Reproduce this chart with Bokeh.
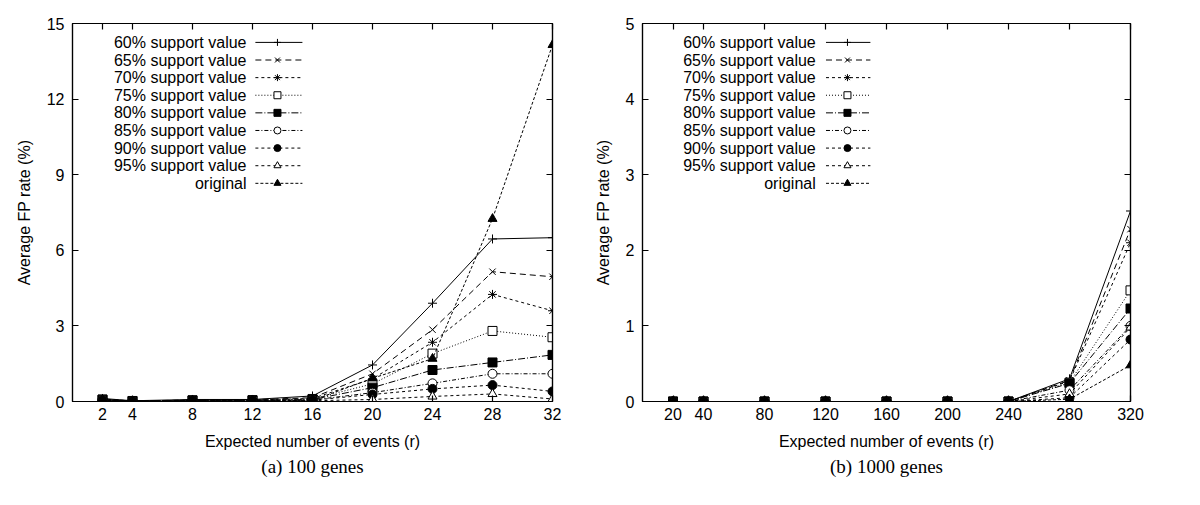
from bokeh.plotting import figure
from bokeh.layouts import row
from bokeh.models import Range1d, LinearAxis, FixedTicker, Title
from bokeh.core.properties import value
from bokeh.embed import file_html
from bokeh.resources import INLINE

# ---------------- data ----------------
labels = ["60% support value", "65% support value", "70% support value",
          "75% support value", "80% support value", "85% support value",
          "90% support value", "95% support value", "original"]

# (a) 100 genes
x_a = [2, 4, 8, 12, 16, 20, 24, 28, 32]
a60 = [0.12, 0.03, 0.08, 0.08, 0.22, 1.45, 3.90, 6.45, 6.50]
a65 = [0.10, 0.02, 0.06, 0.07, 0.15, 1.10, 2.85, 5.15, 4.95]
a70 = [0.10, 0.02, 0.05, 0.06, 0.12, 0.90, 2.35, 4.25, 3.60]
a75 = [0.08, 0.02, 0.05, 0.05, 0.10, 0.70, 1.90, 2.80, 2.55]
a80 = [0.07, 0.02, 0.04, 0.05, 0.08, 0.55, 1.25, 1.55, 1.85]
a85 = [0.06, 0.01, 0.03, 0.04, 0.06, 0.35, 0.72, 1.10, 1.10]
a90 = [0.05, 0.01, 0.03, 0.03, 0.05, 0.28, 0.50, 0.65, 0.40]
a95 = [0.04, 0.01, 0.02, 0.02, 0.03, 0.08, 0.20, 0.30, 0.10]
a_orig = [0.05, 0.01, 0.03, 0.03, 0.04, 0.92, 1.70, 7.25, 14.15]

# (b) 1000 genes
x_b = [20, 40, 80, 120, 160, 200, 240, 280, 320]
b60 = [0, 0, 0, 0, 0, 0, 0, 0.30, 2.52]
b65 = [0, 0, 0, 0, 0, 0, 0, 0.28, 2.28]
b70 = [0, 0, 0, 0, 0, 0, 0, 0.27, 2.10]
b75 = [0, 0, 0, 0, 0, 0, 0, 0.25, 1.47]
b80 = [0, 0, 0, 0, 0, 0, 0, 0.24, 1.23]
b85 = [0, 0, 0, 0, 0, 0, 0, 0.15, 1.00]
b90 = [0, 0, 0, 0, 0, 0, 0, 0.05, 0.82]
b95 = [0, 0, 0, 0, 0, 0, 0, 0.10, 0.98]
b_orig = [0, 0, 0, 0, 0, 0, 0, 0.03, 0.48]

xticks_a = [2, 4, 8, 12, 16, 20, 24, 28, 32]
yticks_a = [0, 3, 6, 9, 12, 15]
xticks_b = [20, 40, 80, 120, 160, 200, 240, 280, 320]
yticks_b = [0, 1, 2, 3, 4, 5]

# ---------------- styles ----------------
styles = [
    dict(marker="cross", fill=None, dash="solid"),
    dict(marker="x", fill=None, dash="6 4"),
    dict(marker="asterisk", fill=None, dash="3 3"),
    dict(marker="square", fill="white", dash="1 2"),
    dict(marker="square", fill="black", dash="7 2 1 2"),
    dict(marker="circle", fill="white", dash="4 2 1 2"),
    dict(marker="circle", fill="black", dash="3 3"),
    dict(marker="triangle", fill="white", dash="3 3"),
    dict(marker="triangle", fill="black", dash="3 2"),
]
SANS = "Liberation Sans"
SERIF = "Liberation Serif"


def make_plot(xs, series, xr, yr, xticks, yticks, caption, frame_w, bl, br,
              leg_text_f, leg_l0, leg_l1, leg_m):
    p = figure(frame_width=frame_w, frame_height=378,
               x_range=Range1d(*xr), y_range=Range1d(*yr),
               output_backend="svg", toolbar_location=None,
               min_border_left=bl, min_border_right=br,
               min_border_top=23, min_border_bottom=10,
               background_fill_color="white", border_fill_color="white")
    p.grid.visible = False
    p.outline_line_color = "black"
    p.outline_line_width = 1.2

    for ax, ticks in ((p.xaxis[0], xticks), (p.yaxis[0], yticks)):
        ax.ticker = FixedTicker(ticks=ticks)
        ax.major_tick_in = 6
        ax.major_tick_out = 0
        ax.minor_tick_in = 0
        ax.minor_tick_out = 0
        ax.axis_line_color = "black"
        ax.axis_line_width = 1.2
        ax.major_tick_line_width = 1.2
        ax.major_label_text_font = SANS
        ax.major_label_text_font_size = "16px"
        ax.major_label_text_color = "black"
        ax.axis_label_text_font = SANS
        ax.axis_label_text_font_size = "16px"
        ax.axis_label_text_font_style = "normal"
        ax.axis_label_text_color = "black"
    p.xaxis[0].axis_label = "Expected number of events (r)"
    p.xaxis[0].major_label_standoff = 6
    p.xaxis[0].axis_label_standoff = 10
    p.yaxis[0].axis_label = "Average FP rate (%)"
    p.yaxis[0].major_label_standoff = 8
    p.yaxis[0].axis_label_standoff = 11

    # mirror ticks (top and right)
    for side, ticks in (("above", xticks), ("right", yticks)):
        ax = LinearAxis(ticker=FixedTicker(ticks=ticks),
                        major_label_overrides={t: "" for t in ticks},
                        major_tick_in=6, major_tick_out=0,
                        minor_tick_in=0, minor_tick_out=0,
                        major_label_standoff=0,
                        axis_line_color="black", axis_line_width=1.2,
                        major_tick_line_width=1.2)
        p.add_layout(ax, side)

    # data
    for ys, st in zip(series, styles):
        p.line(xs, ys, line_color="black", line_width=1, line_dash=st["dash"])
        p.scatter(xs, ys, marker=st["marker"], size=9, line_color="black",
                  line_width=1, fill_color=st["fill"])

    # legend (text left, sample right), positioned by frame fractions
    x0, x1 = xr
    y0, y1 = yr
    fx = lambda f: x0 + f * (x1 - x0)
    fy = lambda f: y1 - f * (y1 - y0)
    for i, (lab, st) in enumerate(zip(labels, styles)):
        yy = fy(0.05 + i * 0.0466)
        p.text(x=[fx(leg_text_f)], y=[yy], text=[lab], text_align="right",
               text_baseline="middle", text_font=value(SANS),
               text_font_size="16px", text_color="black")
        p.line([fx(leg_l0), fx(leg_l1)], [yy, yy], line_color="black",
               line_width=1, line_dash=st["dash"])
        p.scatter([fx(leg_m)], [yy], marker=st["marker"], size=7,
                  line_color="black", line_width=1, fill_color=st["fill"])

    t = Title(text=caption, align="center", text_font=SERIF,
              text_font_size="19px", text_font_style="normal",
              text_color="black", standoff=2)
    p.add_layout(t, "below")
    return p


pa = make_plot(x_a, [a60, a65, a70, a75, a80, a85, a90, a95, a_orig],
               (0, 32), (0, 15), xticks_a, yticks_a, "(a) 100 genes",
               480, 72, 28, 0.3625, 0.381, 0.479, 0.427)
pb = make_plot(x_b, [b60, b65, b70, b75, b80, b85, b90, b95, b_orig],
               (0, 320), (0, 5), xticks_b, yticks_b, "(b) 1000 genes",
               488, 62, 40, 0.355, 0.376, 0.467, 0.42)

layout = row(pa, pb)
open("out.html", "w").write(file_html(layout, INLINE))
